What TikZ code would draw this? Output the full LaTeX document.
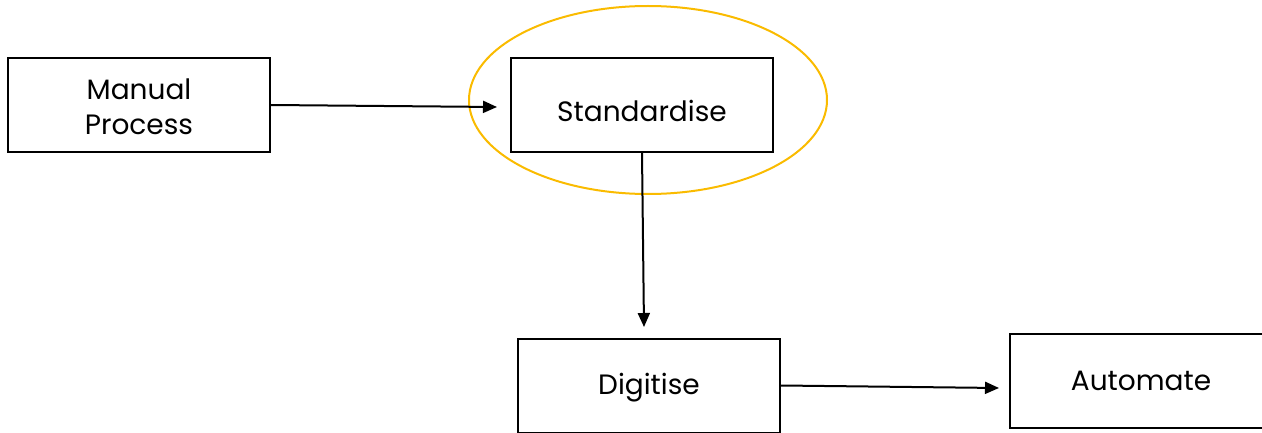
\documentclass[tikz,border=0pt]{standalone}
\usepackage{fontspec}
\setmainfont{Poppins}
\usetikzlibrary{arrows.meta,shapes.geometric}
\begin{document}
\begin{tikzpicture}[x=1pt,y=-1pt,
  stepbox/.style={draw=black,line width=2pt,minimum width=262pt,minimum height=94pt,
    inner sep=0pt},
  label/.style={inner sep=0pt,align=center,font=\fontsize{28}{35}\selectfont},
  flow/.style={line width=2pt,-{Triangle[length=14pt,width=12pt]}},
  halo/.style={draw={rgb,255:red,250;green,187;blue,0},line width=2pt,ellipse,
    minimum width=358pt,minimum height=188pt,inner sep=0pt}]
\useasboundingbox (0,0) rectangle (1262,433);
\clip (0,0) rectangle (1262,433);
% process steps
\node[stepbox] (manual) at (139,105) {};
\node[label] (manualtext) at (139,107) {Manual\\Process};
\node[stepbox] (std) at (642,105) {};
\node[label] (stdtext) at (642,111) {Standardise};
\node[halo] (focus) at (648,100) {};
\node[stepbox] (dig) at (649,385.5) {};
\node[label] (digtext) at (649,388) {Digitise};
\node[stepbox] (auto) at (1141,381) {};
\node[label] (autotext) at (1141,381) {Automate};
% connectors
\coordinate (a1) at (497,107);
\coordinate (a2) at (644,327);
\coordinate (a3) at (999,388);
\draw[flow] (manual.east) -- (a1);
\draw[flow] (std.south) -- (a2);
\draw[flow] (dig.east) -- (a3);
\end{tikzpicture}
\end{document}
